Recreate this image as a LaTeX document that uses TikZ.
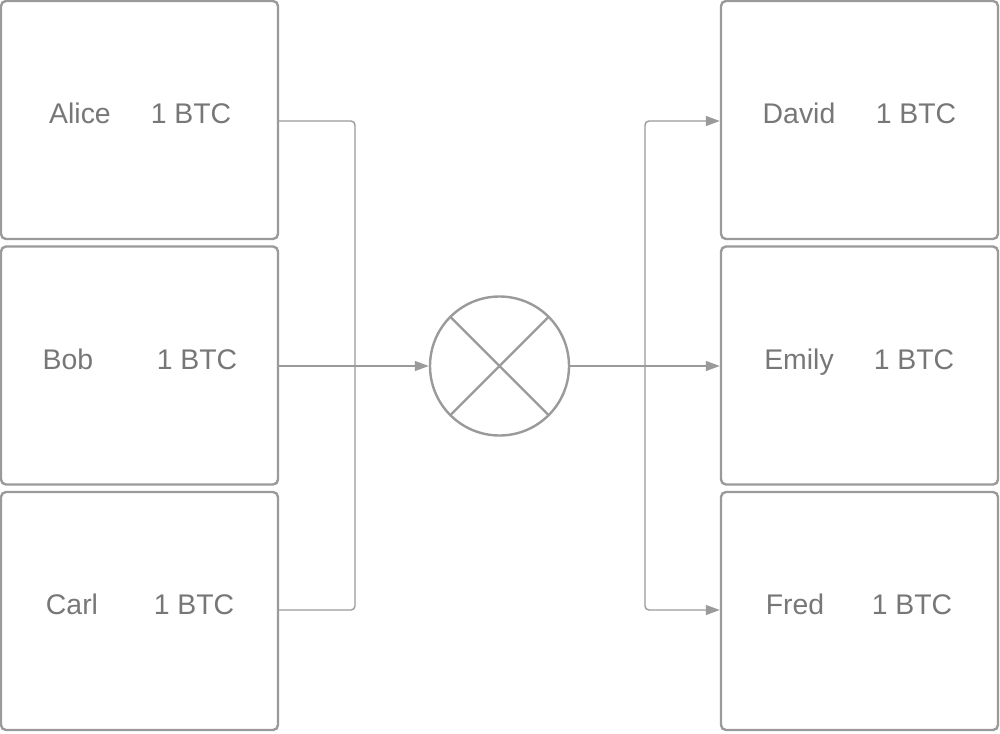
\documentclass[tikz,border=0pt]{standalone}
\usepackage{fontspec}
\setmainfont{Liberation Sans}
\usetikzlibrary{arrows.meta}
\definecolor{ln}{HTML}{9A9A9A}
\definecolor{tx}{HTML}{777777}
\begin{document}
\begin{tikzpicture}[x=0.5pt,y=-0.5pt,
  box/.style={draw=ln,line width=1.2pt,rounded corners=2.5pt,minimum width=138.5pt,minimum height=119pt,inner sep=0pt},
  lbl/.style={text=tx,font=\fontsize{14.2}{16}\selectfont,anchor=base},
  con/.style={draw=ln,line width=0.7pt,rounded corners=2pt},
  arr/.style={con,-{Triangle[length=7pt,width=5pt]}}]
\useasboundingbox (0,0) rectangle (1000,733);
\node[box] (a) at (139.5,120) {};
\node[box] (b) at (139.5,365.5) {};
\node[box] (c) at (139.5,611) {};
\node[box] (d) at (859.5,120) {};
\node[box] (e) at (859.5,365.5) {};
\node[box] (f) at (859.5,611) {};
\node[lbl] (a1) at (80,124) {Alice}; \node[lbl] (a2) at (191,124) {1 BTC};
\node[lbl] (b1) at (68,369) {Bob}; \node[lbl] (b2) at (197,369) {1 BTC};
\node[lbl] (c1) at (72,614) {Carl}; \node[lbl] (c2) at (194,614) {1 BTC};
\node[lbl] (d1) at (799,124) {David}; \node[lbl] (d2) at (916,124) {1 BTC};
\node[lbl] (e1) at (799,369) {Emily}; \node[lbl] (e2) at (914,369) {1 BTC};
\node[lbl] (f1) at (795,614) {Fred}; \node[lbl] (f2) at (912,614) {1 BTC};
\node[draw=ln,line width=1.2pt,circle,minimum size=69.5pt,inner sep=0pt] (m) at (499.5,366) {};
\draw[ln,line width=1.2pt] (m.45)--(m.225) (m.135)--(m.315);
\coordinate (ja) at (355,366); \coordinate (jb) at (645,366);
\draw[con] (a.east|-0,121) -- (355,121) -- (ja);
\draw[con] (c.east|-0,610) -- (355,610) -- (ja);
\draw[arr] (b.east|-0,366) -- (m.west);
\draw[arr] (m.east) -- (e.west|-0,366);
\draw[arr] (jb) -- (645,121) -- (d.west|-0,121);
\draw[arr] (jb) -- (645,610) -- (f.west|-0,610);
\end{tikzpicture}
\end{document}
